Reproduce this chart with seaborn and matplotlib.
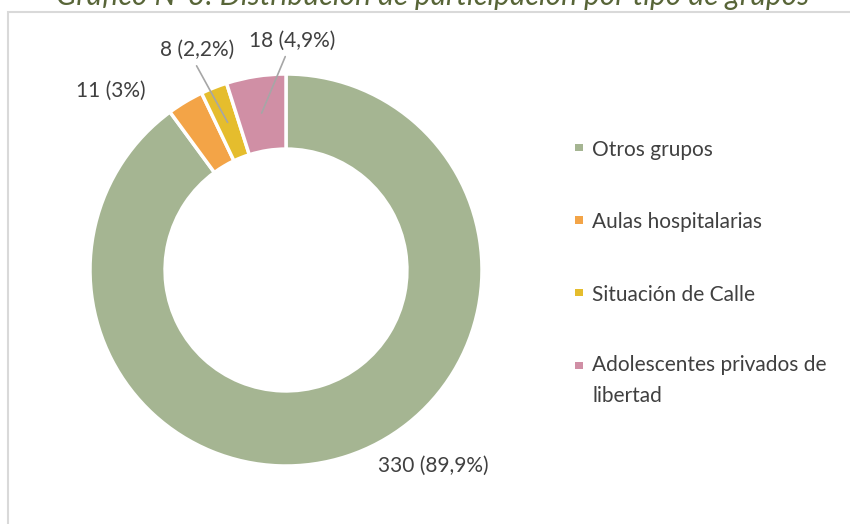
import numpy as np
import matplotlib
matplotlib.use('Agg')
import matplotlib.pyplot as plt
from matplotlib.patches import Rectangle
import seaborn as sns

# Data
categories = ['Otros grupos', 'Aulas hospitalarias', 'Situación de Calle',
              'Adolescentes privados de\nlibertad']
counts = [330, 11, 8, 18]
colors = ['#A5B592', '#F3A447', '#E5BD2D', '#D08FA5']
title = 'Gráfico N°3: Distribución de participación por tipo de grupos'

sns.set_theme(style='white')
plt.rcParams['font.family'] = ['Lato', 'DejaVu Sans']

W, H = 850, 524
fig = plt.figure(figsize=(W / 100, H / 100), dpi=100)

# donut centred at (286, 270) px with radius 196 px
cx, cy, R = 286, 270, 196
ax = fig.add_axes([(cx - R) / W, (H - cy - R) / H, 2 * R / W, 2 * R / H])
wedges, _ = ax.pie(counts, colors=colors, startangle=90, counterclock=False,
                   radius=1, wedgeprops=dict(width=0.383, edgecolor='white', linewidth=2.5))
ax.set_xlim(-1, 1)
ax.set_ylim(-1, 1)
ax.axis('off')

# data labels: value (percent)
total = sum(counts)
labels = []
for c in counts:
    p = f"{100 * c / total:.1f}".replace('.0', '').replace('.', ',')
    labels.append(f"{c} ({p}%)")

# label placement (angle clockwise from top, radius) and leader line flags
label_pos = [(143, 1.25), (315.6, 1.28), (338, 1.21), (1.5, 1.17)]
leader = [False, False, True, True]
angles = np.cumsum([0] + counts[:-1]) + np.array(counts) / 2
angles = angles / total * 360
for lab, (ang, r), ld, mid in zip(labels, label_pos, leader, angles):
    tx, ty = r * np.sin(np.radians(ang)), r * np.cos(np.radians(ang))
    if ld:
        mx, my = 0.81 * np.sin(np.radians(mid)), 0.81 * np.cos(np.radians(mid))
        ax.annotate(lab, xy=(mx, my), xytext=(tx, ty), ha='center', va='center',
                    fontsize=15, color='#404040',
                    arrowprops=dict(arrowstyle='-', color='#A6A6A6', lw=1.2,
                                    relpos=(0.45, 0), shrinkA=2, shrinkB=0))
    else:
        ax.text(tx, ty, lab, ha='center', va='center', fontsize=15, color='#404040')

# legend drawn by hand so the marker sits on the first line
line_h = 28
for i, (cat, col) in enumerate(zip(categories, colors)):
    yc = 148 + i * 72.7
    fig.add_artist(Rectangle((575 / W, 1 - (yc + 3) / H), 7.5 / W, 7.5 / H,
                             transform=fig.transFigure, facecolor=col, edgecolor='none'))
    n_extra = cat.count('\n')
    fig.text(592 / W, 1 - (yc + 7.5 + n_extra * line_h) / H, cat, ha='left', va='baseline',
             fontsize=15, color='#404040', linespacing=1.65)

# chart area border and (cropped) title
fig.add_artist(Rectangle((8 / W, -0.05), 1.0, 1 - 12 / H + 0.05, transform=fig.transFigure,
                         fill=False, edgecolor='#D9D9D9', linewidth=1.5))
fig.text(433 / W, 1 - 5 / H, title, ha='center', va='baseline', style='italic',
         fontsize=21.5, color='#586538')

fig.savefig('out.png', dpi=100)
